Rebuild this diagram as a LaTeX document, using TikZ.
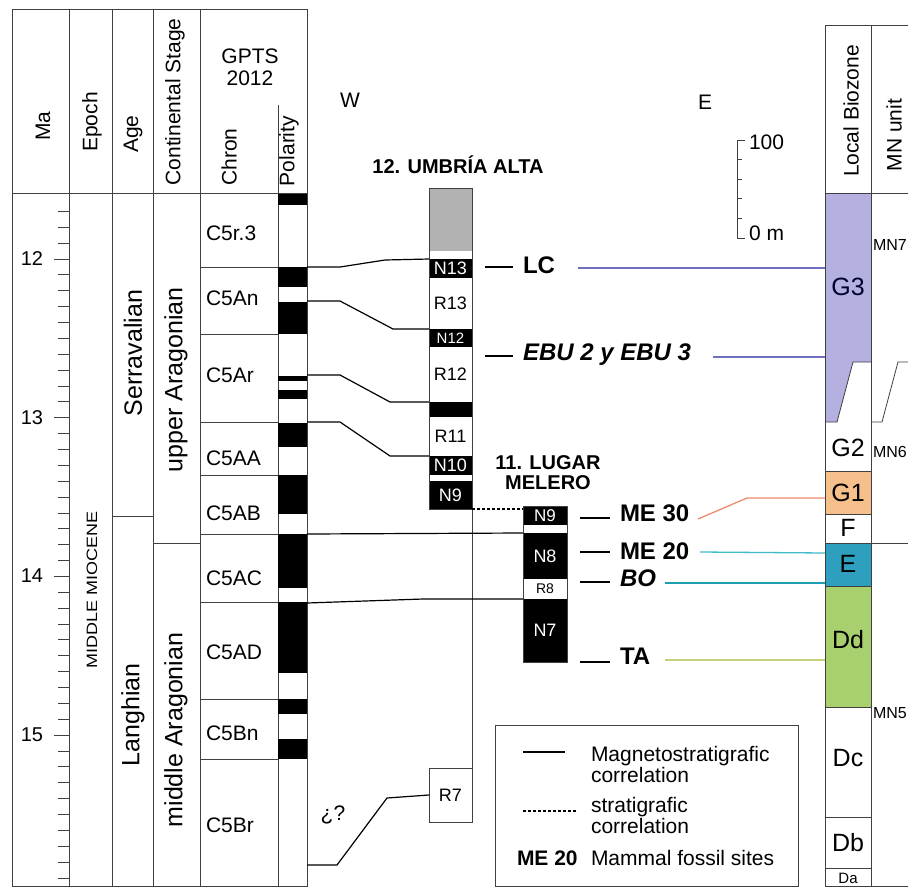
\documentclass[tikz,border=0pt]{standalone}
\usepackage{fontspec}
\usetikzlibrary{calc}
\setmainfont{Liberation Sans}
\newcommand{\myfs}[1]{\fontsize{#1}{#1}\selectfont}
\definecolor{lav}{HTML}{B4B1E0}
\definecolor{lavline}{HTML}{6F6FBF}
\definecolor{salm}{HTML}{F08A70}
\definecolor{tealA}{HTML}{40BCC8}
\definecolor{tealB}{HTML}{1E9FB0}
\definecolor{lime}{HTML}{C2D27A}
\definecolor{gone}{HTML}{F5C08C}
\definecolor{ebox}{HTML}{2E9FBF}
\definecolor{ddbox}{HTML}{A9D06F}
\definecolor{framec}{HTML}{404040}
\begin{document}
\begin{tikzpicture}[x=1pt,y=-1pt,
  every node/.style={inner sep=0pt, outer sep=0pt},
  frame/.style={draw=framec, line width=0.8pt},
  corr/.style={draw=black, line width=1.2pt},
  bb/.style={fill=black, text=white, minimum width=43pt, anchor=north west, font=\myfs{18}},
  bw/.style={fill=white, text=black, minimum width=43pt, anchor=north west, font=\myfs{18}},
  site/.style={anchor=west, font=\bfseries\myfs{24}},
  sitei/.style={anchor=west, font=\bfseries\itshape\myfs{24}},
  dashmark/.style={draw=black, line width=1.2pt},
  hdr/.style={rotate=90, font=\myfs{21}},
  chron/.style={anchor=west, font=\myfs{21}},
  bz/.style={font=\myfs{25}},
  mn/.style={anchor=west, font=\myfs{16}},
  leg/.style={anchor=west, align=left, font=\myfs{21}}
]
\useasboundingbox[fill=white] (0,0) rectangle (908,889);

% ---------------- left table ----------------
\draw[frame] (12,9) rectangle (307,886);
\draw[frame] (12,193) -- (307,193);
\foreach \xx in {69,112,153,200} {\draw[frame] (\xx,9) -- (\xx,886);}
\draw[frame] (278,105) -- (278,886);
\draw[frame] (112,516) -- (153,516);
\draw[frame] (153,543) -- (200,543);
\foreach \yy in {267,334,422,475,534,602,699,759} {\draw[frame] (200,\yy) -- (278,\yy);}

% header texts
\node[hdr] (hMa) at (43,126) {Ma};
\node[hdr] (hEp) at (92,122) {Epoch};
\node[hdr] (hAge) at (133,134) {Age};
\node[hdr] (hCS) at (175,102) {Continental Stage};
\node[align=center, font=\myfs{21}] (hG) at (250,67) {GPTS\\[1pt]2012};
\node[hdr] (hCh) at (229,157) {Chron};
\node[hdr] (hPol) at (289,151) {Polarity};

% Ma ticks
\foreach \i in {7,...,49} {
  \pgfmathsetmacro\yy{259+(\i-10)*15.87}
  \pgfmathtruncatemacro\m{mod(\i,10)}
  \ifnum\m=0 \draw[frame] (54,\yy) -- (69,\yy); \else \draw[frame] (58,\yy) -- (69,\yy); \fi
}
\node[font=\myfs{20}] (m12) at (32,259) {12};
\node[font=\myfs{20}] (m13) at (32,418) {13};
\node[font=\myfs{20}] (m14) at (32,576) {14};
\node[font=\myfs{20}] (m15) at (32,735) {15};

\node[rotate=90, font=\myfs{15}] (epoch) at (92,590) {\scalebox{1.2}[1]{MIDDLE MIOCENE}};
\node[rotate=90, font=\myfs{25}] (serr) at (133,353) {Serravalian};
\node[rotate=90, font=\myfs{25}] (lang) at (133,715) {Langhian};
\node[rotate=90, font=\myfs{25}] (uA) at (176,380) {upper Aragonian};
\node[rotate=90, font=\myfs{25}] (mA) at (176,730) {middle Aragonian};

\node[chron] (c1) at (206,233) {C5r.3};
\node[chron] (c2) at (206,298) {C5An};
\node[chron] (c3) at (206,375) {C5Ar};
\node[chron] (c4) at (206,458) {C5AA};
\node[chron] (c5) at (206,513) {C5AB};
\node[chron] (c6) at (206,578) {C5AC};
\node[chron] (c7) at (206,652) {C5AD};
\node[chron] (c8) at (206,733) {C5Bn};
\node[chron] (c9) at (206,825) {C5Br};

% polarity
\foreach \a/\b in {194/205, 267/287, 302/334, 376/381, 390/399, 423/447, 475/514, 534/588, 602/673, 699/714, 739/759}
  {\fill[black] (278,\a) rectangle (307,\b);}

% ---------------- W / E, scale ----------------
\node[font=\myfs{21}] (W) at (350,100) {W};
\node[font=\myfs{21}] (E) at (705,102) {E};
\coordinate (sbT) at (737,140);
\coordinate (sbB) at (737,238);
\draw[frame] (sbT) -- (sbB);
\draw[frame] (sbT) -- ++(8,0);
\draw[frame] (sbB) -- ++(8,0);
\foreach \k in {1,...,4} {\draw[frame] ($(sbT)!\k/5!(sbB)$) -- ++(5,0);}
\node[anchor=west, font=\myfs{21}] (s100) at (749,142) {100};
\node[anchor=west, font=\myfs{21}] (s0) at (749,233) {0 m};

% ---------------- Umbria Alta ----------------
\node[font=\bfseries\myfs{20}] (ua) at (458,165) {12. UMBRÍA ALTA};
\node[bw, fill=black!30, draw=framec, minimum height=63pt] (uaTop) at (429,188) {};
\node[bw, minimum height=8pt] (uaW0) at (429,251) {};
\node[bb, minimum height=19pt] (uaN13) at (429,259) {N13};
\node[bw, minimum height=51pt] (uaR13) at (429,278) {R13};
\node[bb, minimum height=18pt, font=\myfs{15}] (uaN12) at (429,329) {N12};
\node[bw, minimum height=55pt] (uaR12) at (429,347) {R12};
\node[bb, minimum height=15pt] (uaN11) at (429,402) {};
\node[bw, minimum height=39pt] (uaR11) at (429,417) {R11};
\node[bb, minimum height=19pt] (uaN10) at (429,456) {N10};
\node[bw, minimum height=6pt] (uaW1) at (429,475) {};
\node[bb, minimum height=28pt] (uaN9) at (429,481) {N9};
\draw[frame] (uaTop.north west) rectangle (uaN9.south east);
\node[bw, draw=framec, minimum height=54pt] (r7) at (429,768) {R7};
\draw[frame] (uaN9.south east) -- (r7.north east);

% ---------------- Lugar Melero ----------------
\node[align=center, font=\bfseries\myfs{20}] (lm) at (548,473) {11. LUGAR\\MELERO};
\node[bb, minimum width=44pt, minimum height=19pt, font=\myfs{17}] (lmN9) at (523,506) {N9};
\node[bw, minimum width=44pt, minimum height=8pt] (lmW) at (523,525) {};
\node[bb, minimum width=44pt, minimum height=46pt] (lmN8) at (523,533) {N8};
\node[bw, minimum width=44pt, minimum height=20pt, font=\myfs{14}] (lmR8) at (523,579) {R8};
\node[bb, minimum width=44pt, minimum height=63pt] (lmN7) at (523,599) {N7};
\draw[frame] (lmN9.north west) rectangle (lmN7.south east);

% ---------------- correlation lines ----------------
\draw[corr] (307,267) -- (340,267) -- (385,260) -- (uaN13.north west);
\draw[corr] (307,301) -- (340,301) -- (393,329) -- (uaN12.north west);
\draw[corr] (307,375) -- (340,375) -- (390,402) -- (uaN11.north west);
\draw[corr] (307,422) -- (340,422) -- (390,456) -- (uaN10.north west);
\draw[corr] (307,534) -- (lmN8.north west);
\draw[corr] (307,603) -- (423,599) -- (lmN7.north west);
\draw[corr, dashed, dash pattern=on 3pt off 2pt] (uaN9.south east) -- (uaN9.south east -| lmN9.west);
\draw[corr] (307,865) -- (337,865) -- (387,798) -- (r7.west);
\node[font=\myfs{21}] (q) at (333,815) {¿?};

% ---------------- sites ----------------
\draw[dashmark] (485,267) -- (513,267);
\node[site] (LC) at (523,265) {LC};
\draw[dashmark] (485,356) -- (513,356);
\node[sitei] (EBU) at (523,355) {EBU 2 y EBU 3};
\draw[dashmark] (580,518) -- (610,518);
\node[site] (ME30) at (620,513) {ME 30};
\draw[dashmark] (580,552) -- (610,552);
\node[site] (ME20) at (620,551) {ME 20};
\draw[dashmark] (580,582) -- (610,582);
\node[sitei] (BO) at (620,578) {BO};
\draw[dashmark] (580,662) -- (610,662);
\node[site] (TA) at (620,656) {TA};

% ---------------- biozone column ----------------
\fill[lav] (825,193) -- (871,193) -- (871,362) -- (853,362) -- (837,422) -- (825,422) -- cycle;
\fill[gone] (825,471) rectangle (871,514);
\fill[ebox] (825,543) rectangle (871,586);
\fill[ddbox] (825,586) rectangle (871,707);
\draw[frame] (825,25) -- (908,25);
\draw[frame] (825,193) -- (908,193);
\draw[frame] (825,886) -- (908,886);
\draw[frame] (825,25) -- (825,886);
\draw[frame] (871,25) -- (871,886);
\foreach \yy in {471,514,543,586,707,817,868} {\draw[frame] (825,\yy) -- (871,\yy);}
\draw[frame] (825,422) -- (837,422) -- (853,362) -- (871,362);
\draw[frame] (871,422) -- (882,422) -- (898,362) -- (908,362);
\draw[frame] (871,543) -- (908,543);
\node[hdr] (hLB) at (851,111) {Local Biozone};
\node[hdr] (hMN) at (894,135) {MN unit};

\node[bz, text=black!80!blue] (G3) at (848,287) {G3};
\node[bz] (G2) at (848,448) {G2};
\node[bz] (G1) at (848,493) {G1};
\node[bz] (F) at (848,528) {F};
\node[bz] (Eb) at (848,564) {E};
\node[bz] (Dd) at (848,640) {Dd};
\node[bz] (Dc) at (848,758) {Dc};
\node[bz] (Db) at (848,843) {Db};
\node[font=\myfs{15}] (Da) at (848,878) {Da};
\node[mn] (MN7) at (873,245) {MN7};
\node[mn] (MN6) at (873,452) {MN6};
\node[mn] (MN5) at (873,713) {MN5};

% coloured links
\draw[lavline, line width=1.2pt] (578,268) -- (825,268);
\draw[lavline, line width=1.2pt] (713,357) -- (825,357);
\draw[salm, line width=1.3pt] (698,519) -- (747,498) -- (825,498);
\draw[tealA, line width=1.3pt] (700,552) -- (825,553);
\draw[tealB, line width=1.6pt] (665,583) -- (825,583);
\draw[lime, line width=1.3pt] (665,660) -- (825,660);

% ---------------- legend ----------------
\draw[frame] (495,725) rectangle (798,886);
\draw[corr] (523,752) -- (565,752);
\node[leg] (lg1) at (591,764) {Magnetostratigrafic\\correlation};
\draw[corr, dashed, dash pattern=on 3pt off 2pt] (523,811) -- (577,811);
\node[leg] (lg2) at (591,815) {stratigrafic\\correlation};
\node[anchor=west, font=\bfseries\myfs{21}] (lg3a) at (517,858) {ME 20};
\node[leg] (lg3) at (591,858) {Mammal fossil sites};
\end{tikzpicture}
\end{document}
